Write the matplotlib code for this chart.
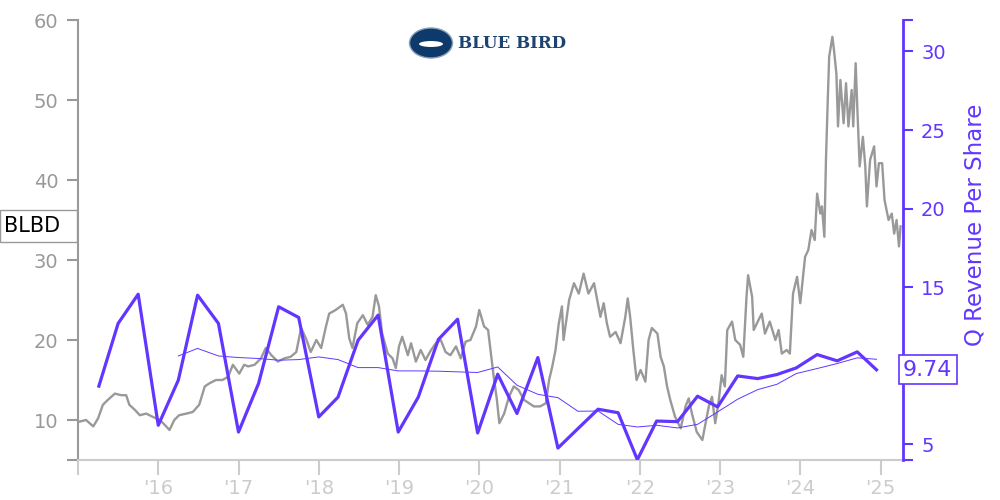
import numpy as np
import matplotlib.pyplot as plt
from matplotlib.patches import Ellipse, Rectangle
from matplotlib.transforms import blended_transform_factory

# precio diario, fecha en anos decimales
price_t = [2015.02, 2015.10, 2015.19, 2015.25, 2015.31, 2015.37, 2015.46, 2015.54, 2015.60, 2015.64,
           2015.71, 2015.77, 2015.85, 2015.93, 2016.02, 2016.08, 2016.14, 2016.20, 2016.26, 2016.35,
           2016.43, 2016.51, 2016.58, 2016.64, 2016.72, 2016.80, 2016.87, 2016.93, 2017.01, 2017.07,
           2017.12, 2017.20, 2017.28, 2017.34, 2017.41, 2017.49, 2017.57, 2017.65, 2017.72, 2017.78,
           2017.84, 2017.90, 2017.97, 2018.03, 2018.09, 2018.13, 2018.21, 2018.30, 2018.34, 2018.38,
           2018.42, 2018.48, 2018.55, 2018.61, 2018.67, 2018.71, 2018.75, 2018.79, 2018.86, 2018.92,
           2018.96, 2019.00, 2019.04, 2019.11, 2019.15, 2019.21, 2019.27, 2019.33, 2019.40, 2019.46,
           2019.52, 2019.58, 2019.64, 2019.71, 2019.77, 2019.83, 2019.89, 2019.96, 2020.00, 2020.06,
           2020.11, 2020.14, 2020.18, 2020.22, 2020.25, 2020.31, 2020.37, 2020.43, 2020.49, 2020.56,
           2020.62, 2020.68, 2020.76, 2020.83, 2020.87, 2020.91, 2020.95, 2020.99, 2021.03, 2021.05,
           2021.12, 2021.18, 2021.24, 2021.30, 2021.36, 2021.43, 2021.47, 2021.51, 2021.55, 2021.59,
           2021.63, 2021.70, 2021.76, 2021.82, 2021.85, 2021.88, 2021.92, 2021.96, 2022.01, 2022.07,
           2022.11, 2022.15, 2022.22, 2022.26, 2022.30, 2022.34, 2022.38, 2022.44, 2022.51, 2022.57,
           2022.61, 2022.65, 2022.71, 2022.78, 2022.82, 2022.86, 2022.90, 2022.94, 2022.98, 2023.02,
           2023.06, 2023.09, 2023.15, 2023.19, 2023.25, 2023.29, 2023.33, 2023.35, 2023.40, 2023.42,
           2023.48, 2023.52, 2023.56, 2023.62, 2023.69, 2023.73, 2023.77, 2023.83, 2023.87, 2023.91,
           2023.96, 2024.00, 2024.06, 2024.10, 2024.14, 2024.18, 2024.21, 2024.25, 2024.27, 2024.30,
           2024.32, 2024.34, 2024.36, 2024.40, 2024.42, 2024.45, 2024.47, 2024.50, 2024.54, 2024.57,
           2024.60, 2024.64, 2024.66, 2024.69, 2024.71, 2024.74, 2024.78, 2024.81, 2024.83, 2024.87,
           2024.92, 2024.95, 2024.98, 2025.02, 2025.05, 2025.10, 2025.14, 2025.17, 2025.20, 2025.23,
           2025.25]
price = [9.8, 10.0, 9.2, 10.2, 11.9, 12.5, 13.3, 13.1, 13.1, 11.9,
         11.25, 10.6, 10.8, 10.4, 10.0, 9.4, 8.75, 10.0, 10.6, 10.8,
         11.0, 11.9, 14.2, 14.6, 15.0, 15.0, 15.4, 16.9, 15.8, 16.9,
         16.7, 16.9, 17.7, 19.0, 18.1, 17.3, 17.7, 17.9, 18.5, 21.5,
         20.2, 18.5, 20.0, 19.0, 21.7, 23.3, 23.75, 24.4, 23.3, 20.2,
         19.0, 22.1, 23.1, 21.9, 22.9, 25.6, 24.2, 20.8, 18.3, 17.7,
         16.5, 19.2, 20.4, 18.1, 19.6, 17.3, 18.75, 17.5, 18.75, 19.6,
         20.0, 18.5, 18.1, 19.2, 17.7, 19.8, 20.0, 21.7, 23.75, 21.7,
         21.25, 18.75, 15.4, 12.5, 9.6, 10.8, 12.9, 14.2, 13.75, 12.5,
         12.1, 11.7, 11.7, 12.1, 15.0, 16.7, 18.75, 22.0, 24.2, 20.0,
         25.0, 27.1, 25.8, 28.3, 25.8, 27.1, 25.0, 22.9, 24.6, 22.1,
         20.4, 21.0, 19.6, 22.9, 25.2, 22.9, 18.75, 15.0, 16.25, 14.8,
         20.0, 21.5, 20.8, 17.9, 16.7, 14.2, 12.5, 10.4, 8.96, 11.7,
         12.7, 10.8, 8.5, 7.5, 9.6, 11.7, 12.9, 9.6, 12.1, 15.6,
         14.2, 21.25, 22.3, 20.0, 19.4, 17.9, 25.4, 28.1, 25.4, 21.25,
         22.5, 23.3, 20.8, 22.3, 20.0, 21.25, 18.3, 18.75, 18.3, 25.8,
         27.9, 24.6, 30.4, 31.25, 33.75, 32.5, 38.3, 35.8, 36.7, 32.9,
         42.5, 49.2, 55.4, 57.9, 56.25, 53.3, 46.7, 52.5, 47.1, 52.1,
         46.7, 51.25, 46.7, 54.6, 49.2, 41.7, 45.4, 41.7, 36.7, 42.5,
         44.2, 39.2, 42.1, 42.1, 37.5, 35.0, 35.8, 33.3, 35.0, 31.7,
         34.2]

# ingreso trimestral por accion
rev_t = [2015.26, 2015.50, 2015.75, 2016.00, 2016.25, 2016.49, 2016.75, 2017.00, 2017.25, 2017.50,
         2017.75, 2018.00, 2018.24, 2018.49, 2018.74, 2018.99, 2019.24, 2019.49, 2019.73, 2019.98,
         2020.23, 2020.47, 2020.73, 2020.98, 2021.23, 2021.48, 2021.73, 2021.97, 2022.21, 2022.47,
         2022.72, 2022.97, 2023.22, 2023.47, 2023.71, 2023.95, 2024.21, 2024.46, 2024.71, 2024.95]
rev = [8.7, 12.69, 14.55, 6.21, 9.08, 14.49, 12.69, 5.78, 8.87, 13.75,
       13.07, 6.74, 8.0, 11.62, 13.22, 5.78, 8.0, 11.67, 12.96, 5.72,
       9.46, 6.96, 10.52, 4.76, 6.0, 7.23, 7.01, 4.02, 6.48, 6.44,
       8.06, 7.38, 9.35, 9.18, 9.44, 9.86, 10.71, 10.31, 10.88, 9.74]

# promedio movil (linea delgada), empieza en 2016.25
avg = [10.62, 11.10, 10.62, 10.52, 10.46, 10.35, 10.39, 10.56, 10.39, 9.88,
       9.88, 9.67, 9.67, 9.65, 9.61, 9.57, 9.92, 8.76, 8.18, 7.97,
       7.10, 7.12, 6.27, 6.10, 6.21, 6.04, 6.27, 7.06, 7.87, 8.48,
       8.82, 9.50, 9.82, 10.14, 10.50, 10.41]
avg_t = rev_t[4:]

years = list(range(2015, 2026))
year_labels = [''] + ["'%02d" % (y % 100) for y in years[1:]]

purple = '#6236ff'
gray = '#999999'
light = '#cccccc'

fig = plt.figure(figsize=(10, 5), dpi=100)
ax = fig.add_axes([0.078, 0.08, 0.825, 0.88])
ax2 = ax.twinx()

ax.plot(price_t, price, color=gray, lw=1.7)
ax.set_xlim(2015.02, 2025.28)
ax.set_ylim(5, 60)
ax.set_yticks([5, 10, 20, 30, 40, 50, 60])
ax.set_yticklabels(['', '10', '20', '30', '40', '50', '60'])
ax.set_xticks(years)
ax.set_xticklabels(year_labels)
ax.tick_params(axis='y', colors=gray, labelsize=14, length=8, width=1.5, pad=6)
ax.tick_params(axis='x', colors=light, labelsize=14, length=11, width=1.5, pad=3)
ax.spines['top'].set_visible(False)
ax.spines['right'].set_visible(False)
ax.spines['left'].set_color(gray)
ax.spines['left'].set_linewidth(1.5)
ax.spines['bottom'].set_color(light)
ax.spines['bottom'].set_linewidth(1.5)

ax2.plot(avg_t, avg, color=purple, lw=0.7)
ax2.plot(rev_t, rev, color=purple, lw=2.3)
ax2.set_ylim(4, 32)
ax2.set_yticks([4, 5, 15, 20, 25, 30, 32])
ax2.set_yticklabels(['', '5', '15', '20', '25', '30', ''])
ax2.tick_params(axis='y', colors=purple, labelsize=14, length=7, width=1.5, pad=6)
ax2.set_ylabel('Q Revenue Per Share', color=purple, fontsize=16.5)
ax2.yaxis.set_label_coords(1.073, 0.535)
for s in ['top', 'left', 'bottom']:
    ax2.spines[s].set_visible(False)
ax2.spines['right'].set_color(purple)
ax2.spines['right'].set_linewidth(2)

# caja con ultimo precio
tr = blended_transform_factory(fig.transFigure, ax.transData)
ax.add_patch(Rectangle((0.0, price[-1] - 2), 0.077, 4, transform=tr, facecolor='white',
                       edgecolor=gray, lw=1, clip_on=False, zorder=5))
ax.text(0.004, price[-1], 'BLBD', transform=tr, ha='left', va='center', fontsize=15,
        color='black', zorder=6)

# caja con ultimo ingreso
ax2.text(1.0, rev[-1], '%.2f' % rev[-1], transform=ax2.get_yaxis_transform(), ha='left',
         va='center', fontsize=16, color=purple, zorder=6,
         bbox=dict(boxstyle='square,pad=0.2', facecolor='white', edgecolor=purple, lw=1.2))

# logo
fig.add_artist(Ellipse((0.431, 1 - 43 / 500), 0.043, 30 / 500, transform=fig.transFigure,
                       facecolor='#0e3a6b', edgecolor='#8aa0b8', lw=1))
fig.add_artist(Ellipse((0.431, 1 - 44 / 500), 0.024, 6 / 500, transform=fig.transFigure,
                       facecolor='white', edgecolor='none'))
fig.text(0.458, 1 - 44 / 500, 'BLUE BIRD', family='DejaVu Serif', weight='bold', fontsize=12,
         color='#1d4370', va='center', ha='left')

fig.savefig('out.png', dpi=100)
